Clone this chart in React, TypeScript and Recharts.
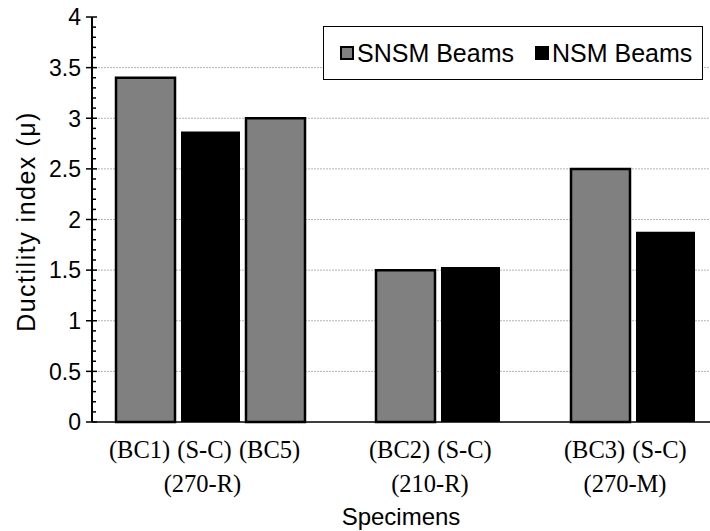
import { BarChart, Bar, XAxis, YAxis, CartesianGrid, Legend, Label } from 'recharts';

const categories = ['(BC1)', '(S-C)', '(BC5)', '', '(BC2)', '(S-C)', '', '(BC3)', '(S-C)'];
const snsmValues = [3.4, null, 3.0, null, 1.5, null, null, 2.5, null];
const nsmValues = [null, 2.87, null, null, null, 1.53, null, null, 1.88];
const groupLabels = ['(270-R)', '(210-R)', '(270-M)'];
const groupPositions = [1, 4.5, 7.5];
const gridValues = [0.5, 1, 1.5, 2, 2.5, 3, 3.5];
const allTicks = Array.from({ length: 41 }, (_, i) => i / 10);

const series = [
  { key: 'snsm', name: 'SNSM Beams', fill: '#808080', stroke: '#000' },
  { key: 'nsm', name: 'NSM Beams', fill: '#000', stroke: 'none' },
];

const data = categories.map((c, i) => ({
  cat: c,
  idx: i,
  snsm: snsmValues[i],
  nsm: nsmValues[i],
}));

const sans = '"Liberation Sans", Arial, sans-serif';
const serif = '"Liberation Serif", "Times New Roman", serif';

function YTick({ x, y, payload }: any) {
  const v = payload.value;
  const major = Math.round(v * 10) % 5 === 0;
  if (!major) {
    return <line x1={x} x2={x + 4} y1={y} y2={y} stroke="#000" strokeWidth={1.5} />;
  }
  return (
    <g>
      <line x1={x - 6} x2={x + 5} y1={y} y2={y} stroke="#000" strokeWidth={1.5} />
      <text x={x - 11} y={y} dy="0.36em" textAnchor="end" fontFamily={sans} fontSize={23} fill="#000">
        {String(v)}
      </text>
    </g>
  );
}

function CatTick({ x, y, payload }: any) {
  if (!payload.value) return null;
  return (
    <text x={x - 6} y={y + 36} textAnchor="middle" fontFamily={serif} fontSize={24.5} fill="#000">
      {payload.value}
    </text>
  );
}

function GroupTick({ x, y, index }: any) {
  return (
    <text x={x - 8} y={y + 30} textAnchor="middle" fontFamily={serif} fontSize={24.5} fill="#000">
      {groupLabels[index]}
    </text>
  );
}

function YTitle({ viewBox }: any) {
  const cx = viewBox.x + 26;
  const cy = viewBox.y + viewBox.height / 2 + 2;
  return (
    <text x={cx} y={cy} transform={`rotate(-90 ${cx} ${cy})`} textAnchor="middle" dy="0.36em"
      fontFamily={sans} fontSize={25} letterSpacing={1.5} fill="#000">
      Ductility index (μ)
    </text>
  );
}

function XTitle({ viewBox }: any) {
  return (
    <text x={viewBox.x + viewBox.width / 2} y={viewBox.y + 63} textAnchor="middle"
      fontFamily={sans} fontSize={24} fill="#000">
      Specimens
    </text>
  );
}

function LegendBox({ payload }: any) {
  const items = [...(payload || [])].sort(
    (a: any, b: any) => series.findIndex(s => s.key === a.dataKey) - series.findIndex(s => s.key === b.dataKey),
  );
  return (
    <div style={{
      boxSizing: 'border-box',
      height: 54,
      width: 380,
      border: '1.5px solid #000',
      background: '#fff',
      display: 'flex',
      alignItems: 'center',
      paddingLeft: 16,
      fontFamily: sans,
      fontSize: 25,
      color: '#000',
      whiteSpace: 'nowrap',
    }}>
      {items.map((p: any, i: number) => {
        const s = series.find(q => q.key === p.dataKey) || series[0];
        return (
          <span key={i} style={{ display: 'flex', alignItems: 'center', marginRight: 21 }}>
            <span style={{
              display: 'inline-block',
              boxSizing: 'border-box',
              width: 14,
              height: 14,
              background: s.fill,
              border: s.stroke === 'none' ? 'none' : `2px solid ${s.stroke}`,
              marginRight: 3,
            }} />
            {p.value}
          </span>
        );
      })}
    </div>
  );
}

export default function App() {
  return (
    <div style={{ width: 710, height: 531, background: '#fff' }}>
      <style>{'body{margin:0}'}</style>
      <BarChart width={710} height={531} data={data} margin={{ top: 17, right: 0, bottom: 34, left: 0 }}>
        <CartesianGrid horizontal vertical={false} horizontalValues={gridValues}
          stroke="#b4b4b4" strokeDasharray="2 1" />
        <XAxis dataKey="cat" tick={<CatTick />} tickLine={false} tickSize={0} tickMargin={0}
          interval={0} height={40} padding={{ left: 21, right: 12 }}
          axisLine={{ stroke: '#000', strokeWidth: 1.5 }} />
        <XAxis xAxisId="grp" dataKey="idx" type="number" domain={[-0.5, 8.5]} allowDataOverflow
          ticks={groupPositions} tick={<GroupTick />} tickLine={false} tickSize={0} tickMargin={0}
          interval={0} height={35} padding={{ left: 21, right: 12 }} axisLine={false}>
          <Label content={<XTitle />} />
        </XAxis>
        <XAxis xAxisId="top" orientation="top" dataKey="cat" height={0} tick={false} tickLine={false}
          axisLine={{ stroke: '#000', strokeWidth: 1.5 }} />
        <YAxis domain={[0, 4]} ticks={allTicks} interval={0} width={92} tick={<YTick />}
          tickLine={false} tickSize={0} tickMargin={0}
          axisLine={{ stroke: '#000', strokeWidth: 2 }}>
          <Label content={<YTitle />} />
        </YAxis>
        <Legend content={<LegendBox />} layout="horizontal" verticalAlign="middle" align="center"
          wrapperStyle={{ left: 323, top: 26, width: 380, height: 54 }} />
        {series.map(s => (
          <Bar key={s.key} dataKey={s.key} name={s.name} stackId="a" barSize={59}
            fill={s.fill} stroke={s.stroke} strokeWidth={s.stroke === 'none' ? 0 : 2.5}
            isAnimationActive={false} />
        ))}
      </BarChart>
    </div>
  );
}
